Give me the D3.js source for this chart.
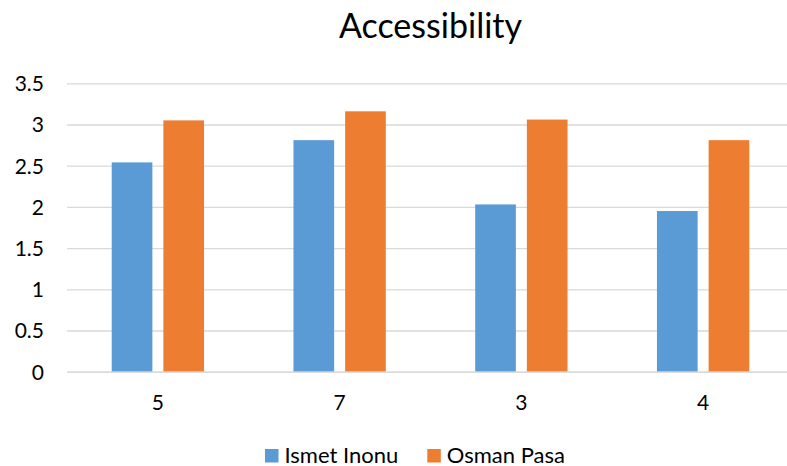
<!DOCTYPE html>
<html>
<head>
<meta charset="utf-8">
<script src="https://cdn.jsdelivr.net/npm/d3@7/dist/d3.min.js"></script>
<style>
  html, body { margin: 0; padding: 0; background: #fff; }
  svg { display: block; }
  text { font-family: Lato, "Open Sans", sans-serif; fill: #000; }
</style>
</head>
<body>
<svg id="chart" width="787" height="466"></svg>
<script>
// Chart data
const title = "Accessibility";
const categories = ["5", "7", "3", "4"];
const seriesNames = ["Ismet Inonu", "Osman Pasa"];
const ismetInonu = [2.54, 2.81, 2.03, 1.95];
const osmanPasa = [3.05, 3.16, 3.06, 2.81];
const yTicks = [0, 0.5, 1, 1.5, 2, 2.5, 3, 3.5];
const colors = ["#5B9BD5", "#ED7D31"];

const seriesValues = [ismetInonu, osmanPasa];
const rows = categories.map((c, i) => ({
  category: c,
  values: seriesNames.map((s, j) => ({ series: s, value: seriesValues[j][i] }))
}));

const plot = { left: 67, right: 794, top: 83.3, bottom: 371.7 };

const svg = d3.select("#chart");

const x = d3.scaleBand()
  .domain(categories)
  .range([plot.left, plot.right])
  .paddingInner(0.492)
  .paddingOuter(0.246);

const xSub = d3.scaleBand()
  .domain(seriesNames)
  .range([0, x.bandwidth()])
  .paddingInner(0.213)
  .paddingOuter(0);

const y = d3.scaleLinear()
  .domain([0, 3.5])
  .range([plot.bottom, plot.top]);

// Horizontal gridlines with value labels
const yAxis = d3.axisLeft(y)
  .tickValues(yTicks)
  .tickSize(-(plot.right - plot.left))
  .tickPadding(23)
  .tickFormat(d => String(d));

const gy = svg.append("g")
  .attr("transform", `translate(${plot.left},0)`)
  .call(yAxis);
gy.select(".domain").remove();
gy.selectAll(".tick line")
  .attr("stroke", "#D9D9D9")
  .attr("stroke-width", 1.3);
gy.selectAll(".tick text")
  .style("font-size", "21px")
  .attr("dy", "0.35em")
  .attr("fill", "#000");

// Bars
const groups = svg.append("g")
  .selectAll("g")
  .data(rows)
  .join("g")
  .attr("transform", d => `translate(${x(d.category)},0)`);

groups.selectAll("rect")
  .data(d => d.values)
  .join("rect")
  .attr("x", d => xSub(d.series))
  .attr("y", d => y(d.value))
  .attr("width", xSub.bandwidth())
  .attr("height", d => y(0) - y(d.value))
  .attr("fill", (d, i) => colors[i]);

// Category axis
const xAxis = d3.axisBottom(x).tickSize(0);
const gx = svg.append("g")
  .attr("transform", `translate(0,${plot.bottom})`)
  .call(xAxis);
gx.select(".domain")
  .attr("stroke", "#D9D9D9")
  .attr("stroke-width", 1.3);
gx.selectAll(".tick text")
  .style("font-size", "21px")
  .attr("y", 38.5)
  .attr("dy", null)
  .attr("fill", "#000");

// Title
svg.append("text")
  .attr("x", (plot.left + plot.right) / 2)
  .attr("y", 38)
  .attr("text-anchor", "middle")
  .style("font-size", "34px")
  .text(title);

// Legend
const legendItems = [
  { name: seriesNames[0], color: colors[0], x: 265 },
  { name: seriesNames[1], color: colors[1], x: 427.3 }
];
const lg = svg.append("g")
  .selectAll("g")
  .data(legendItems)
  .join("g")
  .attr("transform", d => `translate(${d.x},0)`);
lg.append("rect")
  .attr("x", 0).attr("y", 449)
  .attr("width", 13.5).attr("height", 13.5)
  .attr("fill", d => d.color);
lg.append("text")
  .attr("x", 19.5).attr("y", 462.5)
  .style("font-size", "22px")
  .text(d => d.name);
</script>
</body>
</html>
